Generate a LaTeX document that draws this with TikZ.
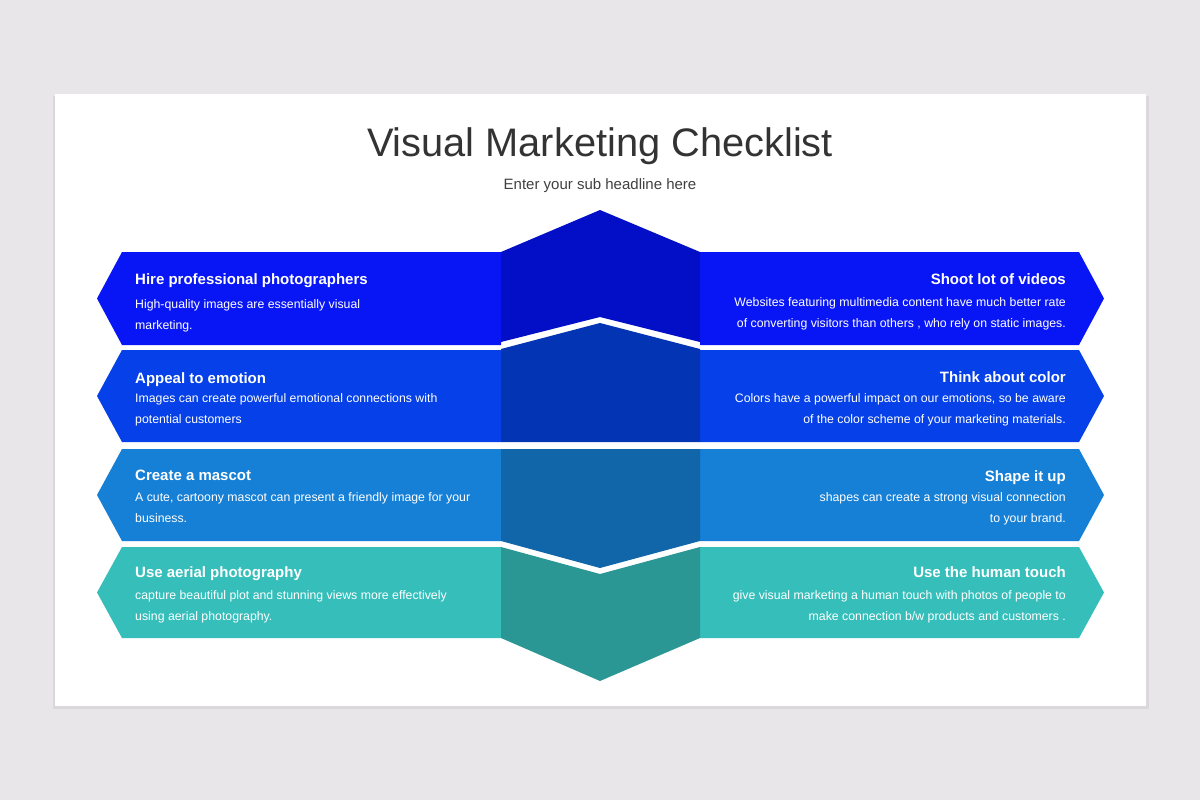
\documentclass[tikz,border=0pt]{standalone}
\usepackage{fontspec}
\setmainfont{Liberation Sans}
\usepackage{xcolor}
\usetikzlibrary{positioning}
\definecolor{slidebg}{RGB}{232,230,232}
\definecolor{ink}{RGB}{51,51,51}
\definecolor{subink}{RGB}{64,64,64}
\definecolor{bandA}{RGB}{8,22,245}
\definecolor{bandB}{RGB}{5,64,232}
\definecolor{bandC}{RGB}{22,127,214}
\definecolor{bandD}{RGB}{54,190,186}
\definecolor{midA}{RGB}{3,15,198}
\definecolor{midB}{RGB}{2,52,180}
\definecolor{midC}{RGB}{16,102,168}
\definecolor{midD}{RGB}{42,151,148}

\begin{document}
\begin{tikzpicture}[x=1pt,y=-1pt,
  head/.style={text=white,font=\fontsize{15}{18}\selectfont\bfseries,inner sep=0pt},
  desc/.style={text=white,font=\fontsize{12.3}{21}\selectfont,inner sep=0pt},
  lt/.style={anchor=base west,align=left},
  rt/.style={anchor=base east,align=right}]
\useasboundingbox (0,0) rectangle (1200,800);
\fill[slidebg] (0,0) rectangle (1200,800);
\fill[slidebg!94!black] (53,96) rectangle (1149,709);
\fill[white] (55,94) rectangle (1146,706);
\node[font=\fontsize{39.8}{44}\selectfont,text=ink,anchor=base,inner sep=0pt] (title) at (600,156) {Visual Marketing Checklist};
\node[font=\fontsize{15}{18}\selectfont,text=subink,anchor=base,inner sep=0pt] (sub) at (600,189) {Enter your sub headline here};
% side arrows, left and right of each band
\foreach \t/\b/\c in {252/345/bandA,350/442/bandB,449/541/bandC,547/638/bandD}{
  \fill[\c] (97,{(\t+\b)/2}) -- (122,\t) -- (501,\t) -- (501,\b) -- (122,\b) -- cycle;
  \fill[\c] (700,\t) -- (1079,\t) -- (1104,{(\t+\b)/2}) -- (1079,\b) -- (700,\b) -- cycle;
}
% middle column with the chevron cuts
\fill[midA] (501,252) -- (600,210) -- (700,252) -- (700,342) -- (600,317) -- (501,342) -- cycle;
\fill[midB] (501,349) -- (600,323) -- (700,349) -- (700,442) -- (501,442) -- cycle;
\fill[midC] (501,449) -- (700,449) -- (700,541) -- (600,568) -- (501,541) -- cycle;
\fill[midD] (501,547) -- (600,574) -- (700,547) -- (700,638) -- (600,681) -- (501,638) -- cycle;
% left texts (desc anchored on its last line)
\node[head,lt] (h1l) at (135,284) {Hire professional photographers};
\node[desc,lt] (d1l) at (135,329) {High-quality images are essentially visual\\marketing.};
\node[head,lt] (h2l) at (135,383) {Appeal to emotion};
\node[desc,lt] (d2l) at (135,423) {Images can create powerful emotional connections with\\potential customers};
\node[head,lt] (h3l) at (135,480) {Create a mascot};
\node[desc,lt] (d3l) at (135,522) {A cute, cartoony mascot can present a friendly image for your\\business.};
\node[head,lt] (h4l) at (135,577) {Use aerial photography};
\node[desc,lt] (d4l) at (135,620) {capture beautiful plot and stunning views more effectively\\using aerial photography.};
% right texts
\node[head,rt] (h1r) at (1066,284) {Shoot lot of videos};
\node[desc,rt] (d1r) at (1066,327) {Websites featuring multimedia content have much better rate\\of converting visitors than others , who rely on static images.};
\node[head,rt] (h2r) at (1066,382) {Think about color};
\node[desc,rt] (d2r) at (1066,423) {Colors have a powerful impact on our emotions, so be aware\\of the color scheme of your marketing materials.};
\node[head,rt] (h3r) at (1066,481) {Shape it up};
\node[desc,rt] (d3r) at (1066,522) {shapes can create a strong visual connection\\to your brand.};
\node[head,rt] (h4r) at (1066,577) {Use the human touch};
\node[desc,rt] (d4r) at (1066,620) {give visual marketing a human touch with photos of people to\\make connection b/w products and customers .};
\end{tikzpicture}
\end{document}
